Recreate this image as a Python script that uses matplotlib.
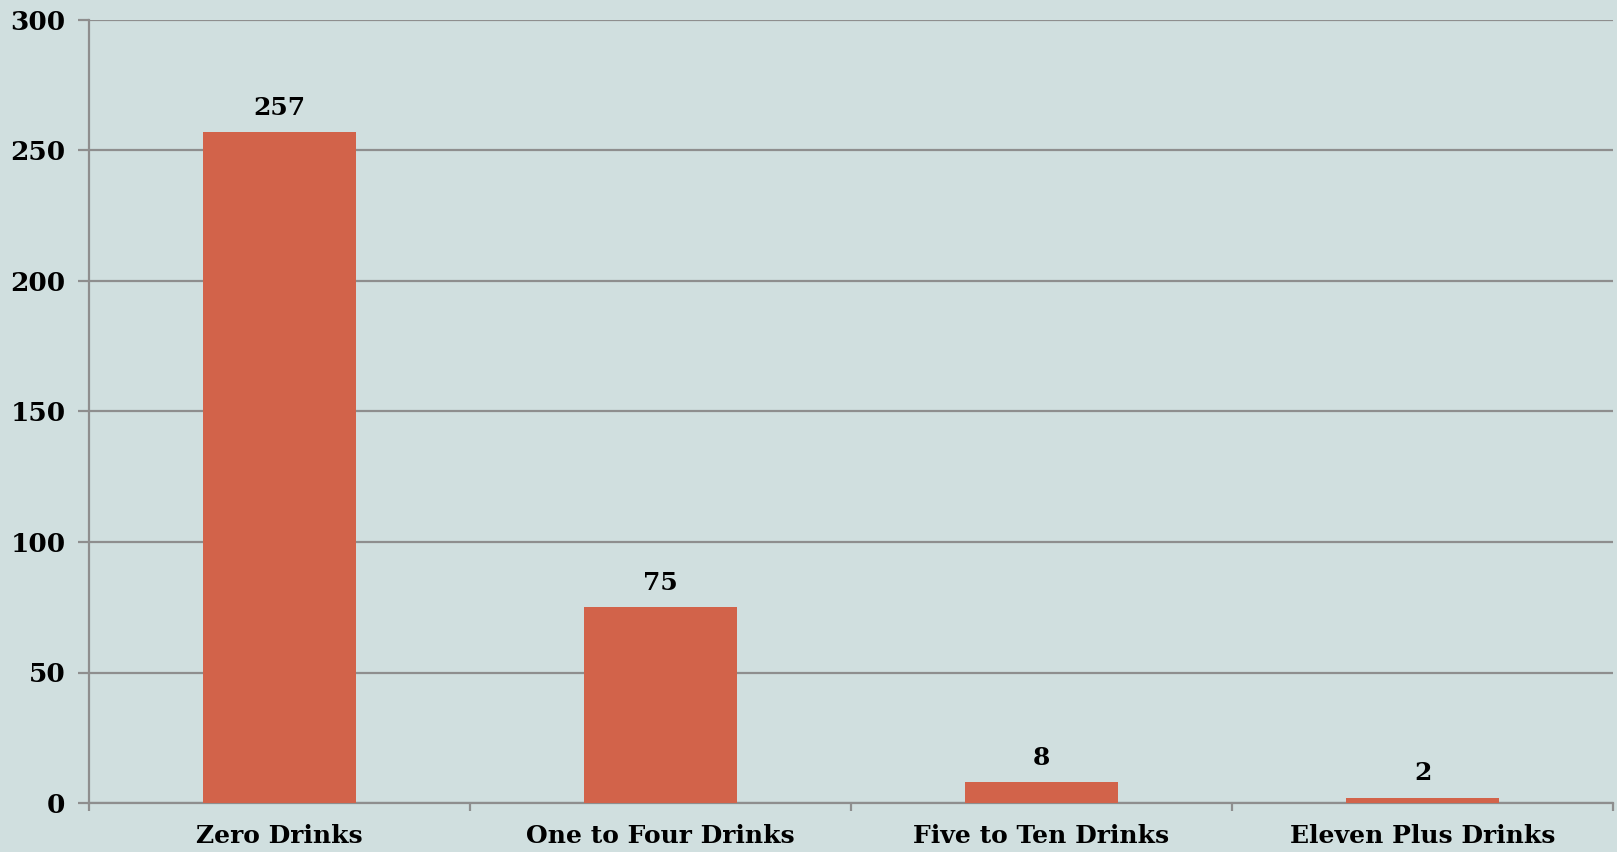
import matplotlib
matplotlib.use("Agg")
import matplotlib.pyplot as plt

categories = ['Zero Drinks', 'One to Four Drinks', 'Five to Ten Drinks', 'Eleven Plus Drinks']
counts = [257, 75, 8, 2]
y_ticks = [0, 50, 100, 150, 200, 250, 300]

bg = '#D0DFDF'
bar_color = '#D2634A'
line_color = '#8E8E8E'

plt.rcParams['font.family'] = 'DejaVu Serif'
plt.rcParams['font.weight'] = 'bold'

fig = plt.figure(figsize=(16.17, 8.52), dpi=100, facecolor=bg)
ax = fig.add_axes([89 / 1617, 49 / 852, 1524 / 1617, 783 / 852])
ax.set_facecolor(bg)

pos = list(range(len(categories)))
bars = ax.bar(pos, counts, width=0.4, color=bar_color, zorder=3)

# value labels above bars
for p, v in zip(pos, counts):
    ax.annotate(str(v), (p, v), xytext=(0, 9), textcoords='offset points',
                ha='center', va='bottom', fontsize=18, fontweight='bold')

ax.set_xlim(-0.5, 3.5)
ax.set_ylim(0, 300)
ax.set_yticks(y_ticks)
ax.yaxis.grid(True, color=line_color, linewidth=1.6, zorder=0)
ax.set_axisbelow(True)

# category labels between boundary ticks
ax.set_xticks([p - 0.5 for p in pos] + [3.5])
ax.set_xticklabels([])
ax.set_xticks(pos, minor=True)
ax.set_xticklabels(categories, minor=True, fontsize=18, fontweight='bold')
ax.tick_params(axis='x', which='minor', length=0, pad=15)
ax.tick_params(axis='x', which='major', length=6, width=1.6, color=line_color)
ax.tick_params(axis='y', length=8, width=1.6, color=line_color, pad=9, labelsize=19)
for t in ax.get_yticklabels():
    t.set_fontweight('bold')

for s in ['top', 'right']:
    ax.spines[s].set_visible(False)
ax.spines['left'].set_color(line_color)
ax.spines['left'].set_linewidth(1.6)
ax.spines['bottom'].set_color(line_color)
ax.spines['bottom'].set_linewidth(1.6)

fig.savefig('out.png', dpi=100, facecolor=bg)
